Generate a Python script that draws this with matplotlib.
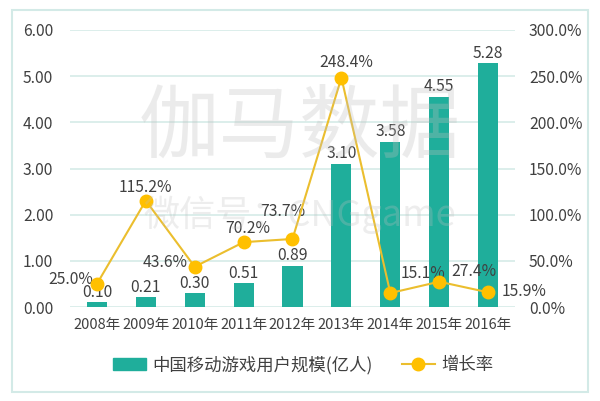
import numpy as np
import matplotlib
matplotlib.use("Agg")
import matplotlib.pyplot as plt
from matplotlib.patches import Rectangle
from matplotlib.lines import Line2D

plt.rcParams['font.family'] = ['Noto Sans CJK SC', 'DejaVu Sans']

years = ["2008年", "2009年", "2010年", "2011年", "2012年", "2013年", "2014年", "2015年", "2016年"]
users = [0.10, 0.21, 0.30, 0.51, 0.89, 3.10, 3.58, 4.55, 5.28]
growth = [25.0, 115.2, 43.6, 70.2, 73.7, 248.4, 15.1, 27.4, 15.9]

# label placement for growth values (pixel offsets from point, alignment)
lab_off = [(-4, 4), (0, 13), (-7, 4), (4, 14), (-10, 27), (5, 15), (10, 20), (12, 10), (14, 1)]
lab_ha = ["right", "center", "right", "center", "center", "center", "left", "left", "left"]

bar_color = "#1FAE9B"
line_color = "#EBBE2E"
marker_color = "#FFC000"
text_color = "#404040"
grid_color = "#D6EBE8"

fig = plt.figure(figsize=(6, 4.01), dpi=100)
fig.patches.append(Rectangle((12 / 600, 1 - 392 / 401), 576 / 600, 382 / 401,
                             transform=fig.transFigure, fill=False,
                             edgecolor="#D3EAE7", linewidth=1.5))

ax = fig.add_axes([70 / 600, 1 - 307 / 401, 445 / 600, 277 / 401])
x = np.arange(len(years))
ax.bar(x, users, width=0.41, color=bar_color, zorder=2)
ax.set_ylim(0, 6)
ax.set_xlim(-0.55, len(years) - 0.45)
ax.set_yticks(np.arange(0, 7, 1))
ax.set_yticklabels([f"{v:.2f}" for v in np.arange(0, 7, 1)])
ax.set_xticks(x)
ax.set_xticklabels(years)
ax.grid(axis="y", color=grid_color, linewidth=1.2, zorder=0)
for s in ax.spines.values():
    s.set_visible(False)
ax.tick_params(length=0, labelsize=11.3, colors=text_color, pad=12)
ax.tick_params(axis="x", labelsize=10.5, pad=8)

for xi, v in zip(x, users):
    ax.annotate(f"{v:.2f}", (xi, v), xytext=(0, 10), textcoords="offset pixels",
                ha="center", va="center", fontsize=11.3, color=text_color, zorder=5)

ax2 = ax.twinx()
ax2.set_ylim(0, 300)
ax2.set_yticks(np.arange(0, 301, 50))
ax2.set_yticklabels([f"{v:.1f}%" for v in np.arange(0, 301, 50)])
for s in ax2.spines.values():
    s.set_visible(False)
ax2.tick_params(length=0, labelsize=11.3, colors=text_color, pad=10)
ax2.plot(x, growth, color=line_color, linewidth=1.5, marker="o", markersize=9,
         markerfacecolor=marker_color, markeredgecolor=marker_color, zorder=4)

for xi, g, off, ha in zip(x, growth, lab_off, lab_ha):
    ax2.annotate(f"{g:.1f}%", (xi, g), xytext=off, textcoords="offset pixels",
                 ha=ha, va="center", fontsize=11.3, color=text_color)

# watermark
fig.text(300 / 600, 1 - 128 / 401, "伽马数据", ha="center", va="center", fontsize=58,
         color="#BFBFBF", alpha=0.3, zorder=10)
fig.text(300 / 600, 1 - 215 / 401, "微信号：CNGgame", ha="center", va="center", fontsize=26,
         color="#BFBFBF", alpha=0.28, zorder=10)

handles = [Rectangle((0, 0), 1, 1, color=bar_color),
           Line2D([0], [0], color=line_color, linewidth=1.5, marker="o", markersize=9,
                  markerfacecolor=marker_color, markeredgecolor=marker_color)]
fig.legend(handles, ["中国移动游戏用户规模(亿人)", "增长率"], loc="center",
           bbox_to_anchor=(303 / 600, 1 - 365 / 401), ncol=2, frameon=False,
           fontsize=12.5, labelcolor=text_color, handlelength=1.9, columnspacing=1.7,
           handletextpad=0.35)

fig.savefig("out.png", dpi=100, facecolor="white")
